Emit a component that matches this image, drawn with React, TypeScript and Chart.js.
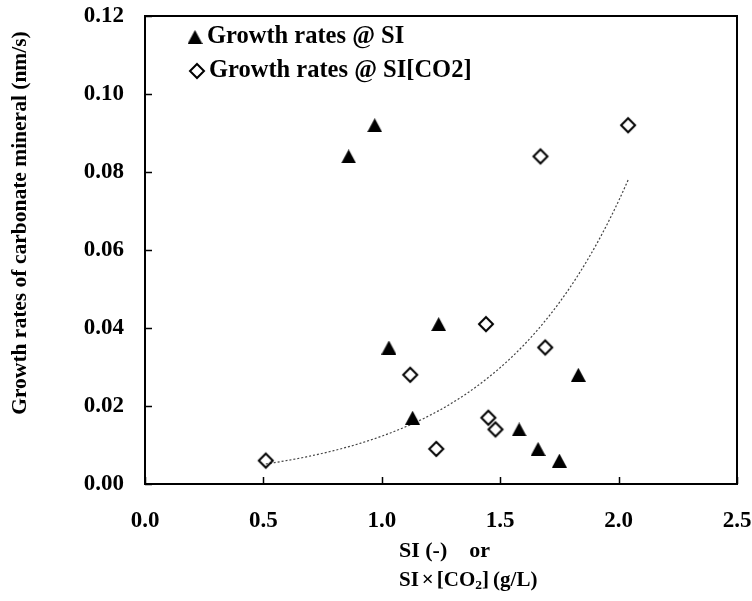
import { useEffect, useRef } from 'react';
import { Chart, registerables } from 'chart.js';

Chart.register(...registerables);

// Growth rates plotted against the saturation index SI
const siValues = [0.86, 0.97, 1.03, 1.13, 1.24, 1.58, 1.66, 1.75, 1.83];
const siRates = [0.084, 0.092, 0.035, 0.017, 0.041, 0.014, 0.009, 0.006, 0.028];

// Growth rates plotted against SI × [CO2]
const siCo2Values = [0.51, 1.12, 1.23, 1.44, 1.45, 1.48, 1.67, 1.69, 2.04];
const siCo2Rates = [0.006, 0.028, 0.009, 0.041, 0.017, 0.014, 0.084, 0.035, 0.092];

const seriesLabels = ['Growth rates @ SI', 'Growth rates @ SI[CO2]'];
const xTickValues = [0, 0.5, 1, 1.5, 2, 2.5];
const yTickValues = [0, 0.02, 0.04, 0.06, 0.08, 0.1, 0.12];

const yTitle = 'Growth rates of carbonate mineral (nm/s)';
const xTitleLine1 = 'SI (-)    or';

const FONT = '"Liberation Serif", "Times New Roman", serif';

// Exponential least-squares trendline y = a·e^(bx) through the SI[CO2] series
function expTrend(xs: number[], ys: number[], steps: number) {
  const n = xs.length;
  const ly = ys.map((v) => Math.log(v));
  const mx = xs.reduce((s, v) => s + v, 0) / n;
  const my = ly.reduce((s, v) => s + v, 0) / n;
  let sxx = 0;
  let sxy = 0;
  for (let i = 0; i < n; i++) {
    sxx += (xs[i] - mx) ** 2;
    sxy += (xs[i] - mx) * (ly[i] - my);
  }
  const b = sxy / sxx;
  const a = Math.exp(my - b * mx);
  const lo = Math.min(...xs);
  const hi = Math.max(...xs);
  const pts: { x: number; y: number }[] = [];
  for (let i = 0; i <= steps; i++) {
    const x = lo + ((hi - lo) * i) / steps;
    pts.push({ x, y: a * Math.exp(b * x) });
  }
  return pts;
}

function makeTriangle(): HTMLCanvasElement {
  const c = document.createElement('canvas');
  c.width = 15;
  c.height = 14;
  const g = c.getContext('2d')!;
  g.fillStyle = '#000';
  g.beginPath();
  g.moveTo(7.5, 0);
  g.lineTo(15, 14);
  g.lineTo(0, 14);
  g.closePath();
  g.fill();
  return c;
}

function makeDiamond(): HTMLCanvasElement {
  const c = document.createElement('canvas');
  c.width = 20;
  c.height = 20;
  const g = c.getContext('2d')!;
  g.strokeStyle = '#000';
  g.lineWidth = 2;
  g.lineJoin = 'miter';
  g.beginPath();
  g.moveTo(10, 3);
  g.lineTo(17, 10);
  g.lineTo(10, 17);
  g.lineTo(3, 10);
  g.closePath();
  g.stroke();
  return c;
}

const framePlugin = {
  id: 'frameAndTitles',
  afterDraw(chart: any) {
    const { ctx, chartArea } = chart;
    const { left, right, top, bottom } = chartArea;
    const xs = chart.scales.x;
    const ys = chart.scales.y;
    ctx.save();
    // inward tick marks
    ctx.strokeStyle = '#000';
    ctx.lineWidth = 1.5;
    ctx.beginPath();
    xs.ticks.forEach((t: any) => {
      const px = Math.round(xs.getPixelForValue(t.value)) + 0.5;
      ctx.moveTo(px, bottom);
      ctx.lineTo(px, bottom - 7);
    });
    ys.ticks.forEach((t: any) => {
      const py = Math.round(ys.getPixelForValue(t.value)) + 0.5;
      ctx.moveTo(left, py);
      ctx.lineTo(left + 7, py);
    });
    ctx.stroke();
    // plot frame
    ctx.lineWidth = 2;
    ctx.strokeRect(left, top, right - left, bottom - top);

    // y title
    ctx.fillStyle = '#000';
    ctx.font = `bold 21.5px ${FONT}`;
    ctx.textAlign = 'center';
    ctx.textBaseline = 'middle';
    ctx.save();
    ctx.translate(20, 223);
    ctx.rotate(-Math.PI / 2);
    ctx.fillText(yTitle, 0, 0);
    ctx.restore();

    // x title, two lines with a subscript in CO2
    ctx.textAlign = 'left';
    ctx.textBaseline = 'middle';
    const x0 = 399;
    ctx.font = `bold 22px ${FONT}`;
    ctx.fillText(xTitleLine1, x0, 551);
    let cx = x0;
    const y2 = 581;
    const parts: [string, number, number, number][] = [
      ['SI', 21, 0, 3],
      ['×', 21, 0, 3],
      ['[CO', 21, 0, 0],
      ['2', 13.5, 5, 0],
      [']', 21, 0, 4],
      ['(g/L)', 21, 0, 0],
    ];
    parts.forEach(([txt, size, dy, gap]) => {
      ctx.font = `bold ${size}px ${FONT}`;
      ctx.fillText(txt, cx, y2 + dy);
      cx += ctx.measureText(txt).width + gap;
    });

    // legend
    const rows = [
      { y: 37, mx: 195, tx: 207 },
      { y: 71, mx: 197, tx: 209 },
    ];
    chart.data.datasets.slice(0, 2).forEach((ds: any, i: number) => {
      const img = ds.pointStyle as HTMLCanvasElement;
      const r = rows[i];
      ctx.drawImage(img, r.mx - img.width / 2, r.y - img.height / 2);
      ctx.font = `bold 24.5px ${FONT}`;
      ctx.fillText(ds.label, r.tx, r.y);
    });
    ctx.restore();
  },
};

export default function App() {
  const ref = useRef<HTMLCanvasElement | null>(null);

  useEffect(() => {
    document.body.style.margin = '0';
    const canvas = ref.current!;
    const tri = makeTriangle();
    const dia = makeDiamond();

    const chart = new Chart(canvas, {
      type: 'scatter',
      data: {
        datasets: [
          {
            label: seriesLabels[0],
            data: siValues.map((x, i) => ({ x, y: siRates[i] })),
            pointStyle: tri as any,
            pointRadius: 8,
            backgroundColor: '#000',
            borderColor: '#000',
          },
          {
            label: seriesLabels[1],
            data: siCo2Values.map((x, i) => ({ x, y: siCo2Rates[i] })),
            pointStyle: dia as any,
            pointRadius: 8,
            backgroundColor: 'transparent',
            borderColor: '#000',
          },
          {
            label: 'Exponential trend',
            data: expTrend(siCo2Values, siCo2Rates, 80),
            showLine: true,
            pointRadius: 0,
            borderColor: '#444',
            borderWidth: 1.2,
            borderDash: [2, 2],
            fill: false,
          },
        ],
      },
      options: {
        responsive: false,
        animation: false,
        devicePixelRatio: 1,
        layout: { padding: { top: 16, right: 15, left: 0, bottom: 0 } },
        plugins: { legend: { display: false }, tooltip: { enabled: false } },
        scales: {
          x: {
            type: 'linear',
            min: 0,
            max: 2.5,
            afterBuildTicks: (s: any) => {
              s.ticks = xTickValues.map((v) => ({ value: v }));
            },
            afterFit: (s: any) => {
              s.height = 117;
              s.paddingLeft = 0;
              s.paddingRight = 0;
            },
            grid: { display: false, drawTicks: false },
            border: { display: false },
            ticks: {
              color: '#000',
              padding: 23,
              font: { family: FONT, size: 23, weight: 'bold' },
              callback: (v: any) => Number(v).toFixed(1),
            },
          },
          y: {
            type: 'linear',
            min: 0,
            max: 0.12,
            afterBuildTicks: (s: any) => {
              s.ticks = yTickValues.map((v) => ({ value: v }));
            },
            afterFit: (s: any) => {
              s.width = 145;
              s.paddingTop = 0;
              s.paddingBottom = 0;
            },
            grid: { display: false, drawTicks: false },
            border: { display: false },
            ticks: {
              color: '#000',
              padding: 21,
              font: { family: FONT, size: 23, weight: 'bold' },
              callback: (v: any) => Number(v).toFixed(2),
            },
          },
        },
      },
      plugins: [framePlugin],
    });
    return () => chart.destroy();
  }, []);

  return (
    <div style={{ width: 752, height: 601 }}>
      <canvas ref={ref} width={752} height={601} />
    </div>
  );
}
